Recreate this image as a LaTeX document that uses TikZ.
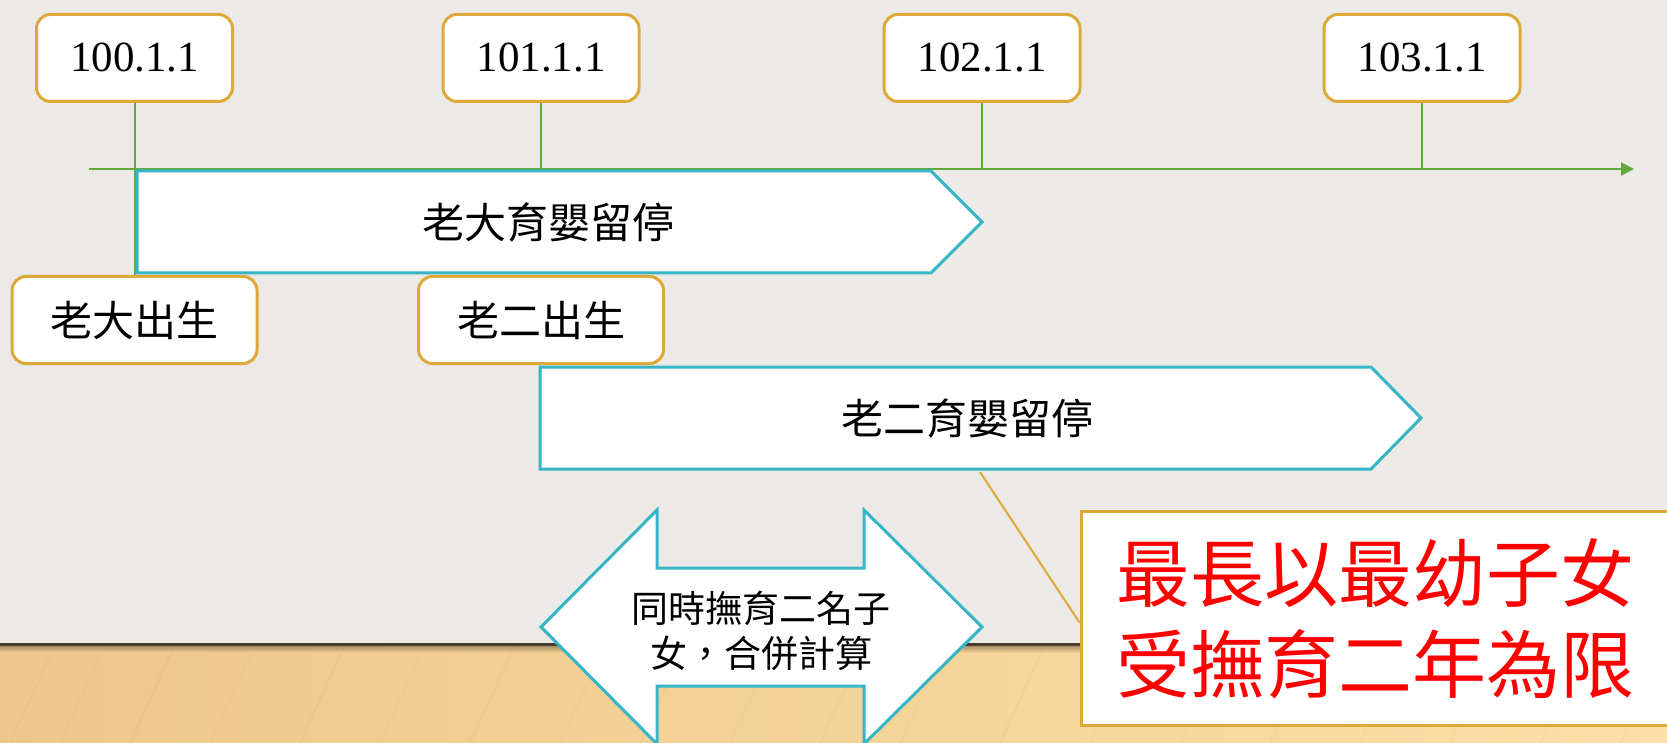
\documentclass[tikz,border=0pt]{standalone}
\usepackage{fontspec}
\setmainfont{Liberation Serif}
\newfontfamily\cjk{Noto Sans CJK TC}
\usetikzlibrary{arrows.meta}
\definecolor{wall}{HTML}{EBEAE6}
\definecolor{gold}{HTML}{DFA93A}
\definecolor{tealc}{HTML}{35B5C6}
\definecolor{tgreen}{HTML}{62A83A}
\definecolor{woodA}{HTML}{EEC78C}
\definecolor{woodB}{HTML}{FADFA8}
\definecolor{woodS}{HTML}{D6A967}
\definecolor{shadowc}{HTML}{4A3E30}
\tikzset{
  datebox/.style={draw=gold, line width=3pt, fill=white, rounded corners=14pt,
    minimum width=196pt, minimum height=87pt, inner sep=0pt,
    font=\fontsize{43}{43}\selectfont},
  birthbox/.style={datebox, minimum width=245pt, font=\cjk\fontsize{42}{42}\selectfont},
  tick/.style={draw=tgreen, line width=2pt},
  bar/.style={draw=tealc, line width=3pt, fill=white, line join=miter},
  bartext/.style={inner sep=0pt, font=\cjk\fontsize{42}{42}\selectfont},
  bothtext/.style={inner sep=0pt, align=center, font=\cjk\fontsize{37}{45}\selectfont},
  callbox/.style={draw=gold, line width=3pt, fill=white, inner sep=0pt,
    minimum width=588pt, minimum height=214pt, text=red, align=center,
    font=\cjk\fontsize{74}{91}\selectfont},
  callline/.style={draw=gold, line width=2pt}
}
\begin{document}
\begin{tikzpicture}[x=1pt,y=-1pt]
\useasboundingbox (0,0) rectangle (1667,743);
% background
\fill[wall] (0,0) rectangle (1667,645);
\shade[left color=woodA, right color=woodB] (0,645) rectangle (1667,743);
\foreach \x/\o in {10/0.12,60/0.08,130/0.14,210/0.09,300/0.12,380/0.07,470/0.1,560/0.08,640/0.12,730/0.07,820/0.1,900/0.08,1000/0.1,1090/0.07,1180/0.1,1270/0.07,1360/0.08,1450/0.06,1540/0.07,1620/0.06}
  \draw[woodS, opacity=\o, line width=2pt] (\x,743) -- (\x+45,645);
\shade[top color=shadowc!60!woodA, bottom color=woodA, opacity=0.7] (0,646) rectangle (1667,652);
\fill[shadowc] (0,643) rectangle (1667,645.5);

% date boxes
\node[datebox] (d100) at (134.5,58) {100.1.1};
\node[datebox] (d101) at (541,58) {101.1.1};
\node[datebox] (d102) at (982,58) {102.1.1};
\node[datebox] (d103) at (1422,58) {103.1.1};
% birth boxes
\node[birthbox] (b1) at (134.5,320) {老大出生};
\node[birthbox] (b2) at (541,320) {老二出生};

% timeline
\coordinate (t0) at (89,169);
\coordinate (t1) at (1634,169);
\draw[tick, -{Triangle[length=13pt,width=13pt]}] (t0) -- (t1);
\draw[tick] (d100.south) -- (b1.north);
\draw[tick] (d101.south) -- (d101.south |- t0);
\draw[tick] (d102.south) -- (d102.south |- t0);
\draw[tick] (d103.south) -- (d103.south |- t0);

% bars
\draw[bar] (137,171) -- (931,171) -- (982,222) -- (931,273) -- (137,273) -- cycle;
\node[bartext] (p1) at (548,222) {老大育嬰留停};
\draw[bar] (540,367) -- (1371,367) -- (1421,418) -- (1371,469) -- (540,469) -- cycle;
\node[bartext] (p2) at (967,418) {老二育嬰留停};
\coordinate (p2b) at (980,472);

% double arrow
\draw[bar] (541,627) -- (657,510) -- (657,568) -- (864,568) -- (864,510) -- (982,627)
  -- (864,744) -- (864,686) -- (657,686) -- (657,744) -- cycle;
\node[bothtext] (both) at (761,631) {同時撫育二名子\\女，合併計算};

% callout
\node[callbox] (call) at (1375,618.5) {最長以最幼子女\\受撫育二年為限};
\draw[callline] (p2b) -- ([yshift=-4pt]call.west);
\end{tikzpicture}
\end{document}
